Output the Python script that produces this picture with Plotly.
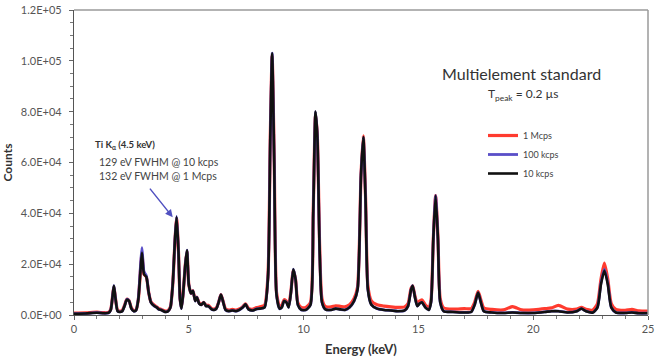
import plotly.graph_objects as go

# Energy (keV) and counts
energy_kev = [
    0.0, 0.5, 1.0, 1.3, 1.5, 1.6, 1.7, 1.74, 1.8, 1.9,
    2.0, 2.1, 2.2, 2.3, 2.4, 2.5, 2.6, 2.7, 2.8, 2.9,
    2.96, 3.05, 3.15, 3.25, 3.35, 3.5, 3.6, 3.7, 3.8, 3.9,
    4.0, 4.1, 4.2, 4.3, 4.4, 4.47, 4.55, 4.62, 4.68, 4.75,
    4.85, 4.92, 5.0, 5.1, 5.18, 5.28, 5.35, 5.45, 5.55, 5.65,
    5.75, 5.85, 6.0, 6.1, 6.2, 6.3, 6.4, 6.5, 6.6, 6.75,
    6.9, 7.05, 7.2, 7.35, 7.47, 7.6, 7.8, 7.95, 8.1, 8.3,
    8.45, 8.55, 8.63, 8.72, 8.82, 8.95, 9.05, 9.15, 9.25, 9.35,
    9.45, 9.55, 9.65, 9.75, 9.9, 10.1, 10.3, 10.42, 10.52, 10.6,
    10.7, 10.8, 10.95, 11.2, 11.4, 11.6, 11.8, 12.0, 12.2, 12.35,
    12.5, 12.6, 12.7, 12.8, 12.95, 13.2, 13.5, 13.8, 14.1, 14.4,
    14.55, 14.68, 14.75, 14.85, 14.95, 15.05, 15.15, 15.3, 15.45, 15.55,
    15.65, 15.75, 15.85, 15.95, 16.1, 16.5, 17.0, 17.3, 17.45, 17.6,
    17.72, 17.85, 18.2, 18.7, 19.1, 19.5, 20.0, 20.5, 20.8, 21.1,
    21.5, 21.9, 22.1, 22.3, 22.6, 22.8, 22.95, 23.1, 23.25, 23.4,
    23.6, 24.0, 24.3, 24.6, 25.0,
]

counts_10kcps = [
    500, 600, 900, 700, 800, 2000, 9000, 11500, 7000, 1500,
    1200, 1500, 3500, 6000, 5500, 2500, 1500, 1800, 6000, 18000,
    24500, 16000, 15000, 9000, 5000, 3500, 3000, 2200, 2000, 1500,
    1200, 1500, 3000, 12000, 30000, 38500, 25000, 6000, 2500, 8000,
    20000, 25500, 12000, 8500, 9500, 5500, 7000, 4500, 4000, 5000,
    3500, 3500, 2200, 2000, 2500, 5000, 8000, 5000, 2000, 1500,
    1800, 1500, 2000, 3000, 4200, 2200, 1800, 2400, 2500, 3000,
    15000, 70000, 103000, 60000, 8000, 2500, 3000, 5500, 5000, 3000,
    9000, 18000, 14000, 4000, 2000, 2000, 4000, 40000, 80000, 70000,
    25000, 5000, 2200, 2000, 2500, 2200, 2000, 3000, 5500, 10000,
    55000, 70000, 45000, 10000, 4000, 2500, 2000, 1800, 1500, 1800,
    3500, 10000, 11500, 7000, 3500, 4500, 5000, 3000, 2000, 5000,
    30000, 47000, 30000, 5000, 1500, 1200, 1000, 1200, 4000, 8800,
    5000, 1500, 1000, 800, 1000, 800, 800, 1200, 1500, 1500,
    1000, 1500, 2500, 1500, 1000, 3000, 12000, 17500, 12000, 3000,
    1000, 800, 1000, 700, 700,
]

counts_100kcps = [
    500, 600, 900, 700, 800, 2000, 9000, 11500, 7000, 1500,
    1200, 1500, 3500, 6200, 5500, 2500, 1500, 1800, 6500, 20000,
    26500, 17000, 15500, 9000, 5000, 3500, 3000, 2200, 2000, 1500,
    1200, 1500, 3000, 12000, 30000, 38800, 25000, 6000, 2500, 8000,
    20000, 25500, 12000, 8500, 9500, 5500, 7000, 4500, 4000, 5000,
    3500, 3500, 2200, 2000, 2500, 5000, 8000, 5000, 2000, 1500,
    1800, 1500, 2000, 3000, 4200, 2200, 1800, 2400, 2500, 3000,
    15000, 70000, 103000, 60000, 8000, 2500, 3000, 5500, 5000, 3000,
    9000, 18000, 14000, 4000, 2000, 2000, 4000, 40000, 80000, 70000,
    25000, 5000, 2200, 2000, 2500, 2200, 2000, 3000, 5500, 10000,
    55000, 70000, 45000, 10000, 4000, 2500, 2000, 1800, 1500, 1800,
    3500, 10000, 11500, 7000, 3500, 4500, 5000, 3000, 2000, 5000,
    30000, 47000, 30000, 5000, 1500, 1200, 1000, 1200, 4000, 8800,
    5000, 1500, 1000, 800, 1000, 800, 800, 1200, 1500, 1500,
    1000, 1500, 2500, 1500, 1000, 3000, 12500, 18000, 12500, 3000,
    1000, 800, 1000, 700, 700,
]

counts_1mcps = [
    700, 800, 1100, 900, 1000, 2200, 9000, 11000, 7000, 1800,
    1500, 1800, 3800, 6200, 5600, 2800, 1800, 2000, 6000, 18000,
    24000, 16000, 15000, 9000, 5200, 3800, 3200, 2500, 2200, 1800,
    1500, 1800, 3200, 12000, 29500, 38000, 25000, 6500, 3000, 8000,
    20000, 25000, 12000, 8500, 9500, 5800, 7000, 4800, 4200, 5000,
    3800, 3800, 2500, 2300, 2800, 5000, 8000, 5200, 2400, 1900,
    2200, 1900, 2400, 3300, 4400, 2600, 2300, 2900, 3200, 3800,
    16000, 71000, 102000, 62000, 9000, 3500, 3800, 6000, 5500, 3800,
    9500, 17500, 14000, 4800, 3000, 3000, 5000, 41000, 79000, 70000,
    27000, 6500, 3300, 3200, 3600, 3400, 3200, 4000, 6500, 11000,
    55000, 70500, 46000, 11500, 5500, 4000, 3500, 3200, 3000, 3200,
    4500, 10500, 11500, 7500, 4500, 5500, 6000, 4000, 3000, 6000,
    30000, 47000, 31000, 6500, 2800, 2300, 2500, 2500, 5000, 9300,
    6000, 2800, 2200, 2000, 3300, 2000, 2000, 2500, 2800, 3800,
    2300, 2300, 3000, 2200, 2000, 4500, 14000, 20400, 14000, 4500,
    2200, 1800, 2200, 1600, 1500,
]

series_names = ["1 Mcps", "100 kcps", "10 kcps"]
series_colors = ["#ff3b2f", "#5a4fc8", "#111111"]

y_tick_values = [0, 20000, 40000, 60000, 80000, 100000, 120000]
y_tick_labels = ["0.0E+00", "2.0E+04", "4.0E+04", "6.0E+04", "8.0E+04", "1.0E+05", "1.2E+05"]
x_tick_values = [0, 5, 10, 15, 20, 25]

PL, PT, PW, PH = 74, 10, 574, 305
FIG_W, FIG_H = 661, 360


def px(xpix):
    return (xpix - PL) / PW


def py(ypix):
    return (PT + PH - ypix) / PH


fig = go.Figure()
for name, color, ys, w in zip(series_names, series_colors,
                              [counts_1mcps, counts_100kcps, counts_10kcps],
                              [3.2, 2.8, 2.6]):
    fig.add_trace(go.Scatter(
        x=energy_kev, y=ys, mode="lines", name=name,
        line=dict(color=color, width=w, shape="spline", smoothing=0.6),
    ))

tick_font = dict(family="Lato, Open Sans, sans-serif", size=11, color="#555555")

fig.update_layout(
    width=FIG_W, height=FIG_H,
    margin=dict(l=PL, r=FIG_W - PL - PW, t=PT, b=FIG_H - PT - PH, autoexpand=False),
    paper_bgcolor="white", plot_bgcolor="white",
    font=dict(family="Lato, Open Sans, sans-serif", color="#333333"),
    showlegend=True,
    legend=dict(
        x=px(483), y=py(121), xanchor="left", yanchor="top",
        bgcolor="rgba(0,0,0,0)", font=dict(size=9, color="#444444"),
        itemwidth=30, tracegroupgap=0,
    ),
    xaxis=dict(
        range=[0, 25], tickvals=x_tick_values, ticks="outside", ticklen=4,
        tickcolor="#666666", showgrid=False, zeroline=False, automargin=False,
        showline=True, linecolor="#555555", linewidth=1.2,
        tickfont=tick_font, ticklabeloverflow="allow",
        minor=dict(dtick=1, ticks="outside", ticklen=3, tickcolor="#777777"),
        title=dict(text="<b>Energy (keV)</b>", font=dict(size=13, color="#333333"), standoff=10),
    ),
    yaxis=dict(
        range=[0, 120000], tickvals=y_tick_values, ticktext=y_tick_labels,
        ticks="outside", ticklen=4, tickcolor="#666666", ticklabelstandoff=5,
        showgrid=False, zeroline=False, automargin=False,
        showline=True, linecolor="#555555", linewidth=1.2,
        tickfont=tick_font, ticklabeloverflow="allow",
        minor=dict(dtick=5000, ticks="outside", ticklen=3, tickcolor="#777777"),
        title=dict(text="<b>Counts</b>", font=dict(size=12, color="#333333"), standoff=6),
    ),
)

# gray top / right frame
fig.add_shape(type="line", xref="paper", yref="paper", x0=0, x1=1, y0=1, y1=1,
              line=dict(color="#9a9a9a", width=1.5))
fig.add_shape(type="line", xref="paper", yref="paper", x0=1, x1=1, y0=0, y1=1,
              line=dict(color="#9a9a9a", width=1.5))

fig.add_annotation(x=px(521), y=py(73), xref="paper", yref="paper",
                   xanchor="center", yanchor="middle",
                   text="Multielement standard", showarrow=False,
                   font=dict(size=16, color="#333333"))
fig.add_annotation(x=px(523), y=py(94), xref="paper", yref="paper",
                   xanchor="center", yanchor="middle",
                   text="T<sub>peak</sub> = 0.2 µs", showarrow=False,
                   font=dict(size=12, color="#333333"))

fig.add_annotation(x=px(93), y=py(145), xref="paper", yref="paper",
                   xanchor="left", yanchor="middle", align="left", showarrow=False,
                   text="<b>Ti K<sub>α</sub> (4.5 keV)</b>",
                   font=dict(size=9.5, color="#333333"))
fig.add_annotation(x=px(97), y=py(169), xref="paper", yref="paper",
                   xanchor="left", yanchor="middle", align="left", showarrow=False,
                   text="129 eV FWHM @ 10 kcps<br>132 eV FWHM @ 1 Mcps",
                   font=dict(size=10.5, color="#444444"))
fig.add_annotation(x=4.3, y=38500, ax=-24, ay=-30, text="", showarrow=True,
                   arrowhead=2, arrowsize=1, arrowwidth=1.5, arrowcolor="#5050c0")

fig.write_html("out.html", config={"displayModeBar": False},
               post_script="document.body.style.margin='0';")
